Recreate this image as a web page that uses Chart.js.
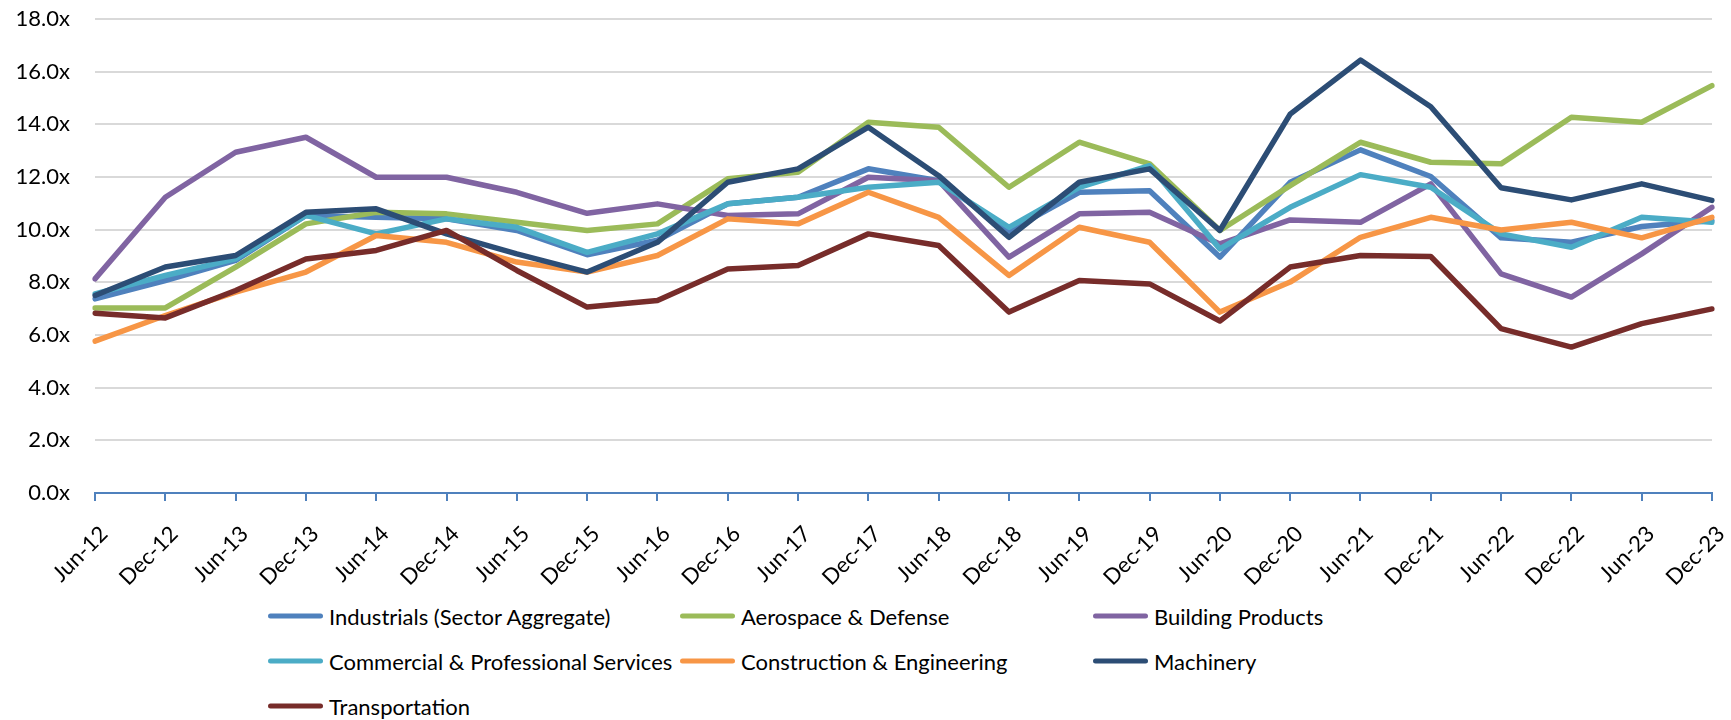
<!DOCTYPE html>
<html lang="en">
<head>
  <meta charset="UTF-8">
  <title>Industrials EV/EBITDA Multiples</title>
  <script src="https://cdn.jsdelivr.net/npm/chart.js"></script>
  <style>
    body {
      margin: 0;
      background: #fff;
      font-family: Lato, "Open Sans", sans-serif;
    }
    #wrap {
      position: relative;
      width: 1731px;
      height: 720px;
    }
    .leg {
      position: absolute;
      display: flex;
      align-items: center;
      font-size: 22px;
      color: #000;
      white-space: nowrap;
      transform: translateY(-50%);
    }
    .leg span.sw {
      display: inline-block;
      width: 55px;
      height: 5px;
      border-radius: 3px;
      margin-right: 6px;
    }
  </style>
</head>
<body>
  <div id="wrap">
    <canvas id="chart" width="1731" height="585"></canvas>
    <div id="legend"></div>
  </div>

  <script>
    const periods = ['Jun-12', 'Dec-12', 'Jun-13', 'Dec-13', 'Jun-14', 'Dec-14', 'Jun-15', 'Dec-15',
      'Jun-16', 'Dec-16', 'Jun-17', 'Dec-17', 'Jun-18', 'Dec-18', 'Jun-19', 'Dec-19',
      'Jun-20', 'Dec-20', 'Jun-21', 'Dec-21', 'Jun-22', 'Dec-22', 'Jun-23', 'Dec-23'];

    const industrials = [7.37, 8.07, 8.83, 10.54, 10.47, 10.41, 9.97, 9.05, 9.6, 10.98, 11.23, 12.31,
      11.86, 9.95, 11.42, 11.48, 8.96, 11.8, 13.03, 12.02, 9.69, 9.52, 10.12, 10.35];
    const aerospace = [7.03, 7.03, 8.58, 10.22, 10.66, 10.6, 10.28, 9.97, 10.22, 11.93, 12.18, 14.08,
      13.89, 11.61, 13.32, 12.5, 9.97, 11.67, 13.32, 12.56, 12.5, 14.27, 14.08, 15.47];
    const building = [8.13, 11.23, 12.94, 13.51, 11.99, 11.99, 11.42, 10.62, 10.98, 10.54, 10.6, 11.99,
      11.86, 8.96, 10.6, 10.66, 9.46, 10.37, 10.28, 11.74, 8.32, 7.44, 9.08, 10.85];
    const commercial = [7.56, 8.26, 8.89, 10.54, 9.84, 10.41, 10.09, 9.14, 9.84, 10.98, 11.23, 11.61,
      11.8, 10.09, 11.61, 12.43, 9.27, 10.85, 12.09, 11.61, 9.84, 9.33, 10.47, 10.28];
    const construction = [5.77, 6.74, 7.63, 8.39, 9.78, 9.52, 8.77, 8.39, 9.02, 10.41, 10.22, 11.42,
      10.47, 8.26, 10.09, 9.52, 6.87, 8.01, 9.71, 10.47, 9.99, 10.28, 9.69, 10.47];
    const machinery = [7.5, 8.58, 9.02, 10.66, 10.79, 9.84, 9.08, 8.39, 9.52, 11.8, 12.31, 13.89,
      12.05, 9.71, 11.8, 12.31, 9.97, 14.39, 16.44, 14.67, 11.59, 11.13, 11.74, 11.11];
    const transportation = [6.83, 6.65, 7.69, 8.89, 9.21, 9.97, 8.45, 7.06, 7.31, 8.51, 8.64, 9.84,
      9.4, 6.87, 8.07, 7.94, 6.53, 8.58, 9.02, 8.98, 6.24, 5.54, 6.43, 6.99];

    const seriesNames = ['Industrials (Sector Aggregate)', 'Aerospace & Defense', 'Building Products',
      'Commercial & Professional Services', 'Construction & Engineering', 'Machinery', 'Transportation'];
    const seriesData = [industrials, aerospace, building, commercial, construction, machinery, transportation];
    const seriesColors = ['#4F81BD', '#9BBB59', '#8064A2', '#4BACC6', '#F79646', '#2C4D75', '#772C2A'];

    const FONT = 'Lato, "Open Sans", sans-serif';
    const H = 585;

    const datasets = seriesNames.map((name, i) => ({
      label: name,
      data: seriesData[i],
      borderColor: seriesColors[i],
      backgroundColor: seriesColors[i],
      borderWidth: 5.5,
      pointRadius: 0,
      tension: 0,
      fill: false,
      borderJoinStyle: 'round',
      borderCapStyle: 'round',
      order: seriesNames.length - i   // later series drawn on top, like Excel
    }));

    new Chart(document.getElementById('chart'), {
      type: 'line',
      data: { labels: periods, datasets: datasets },
      options: {
        responsive: false,
        animation: false,
        events: [],
        layout: { padding: { top: 19, right: 19, left: 0, bottom: 0 } },
        plugins: { legend: { display: false }, tooltip: { enabled: false } },
        scales: {
          x: {
            offset: false,
            ticks: {
              autoSkip: false, maxRotation: 45, minRotation: 45,
              font: { family: FONT, size: 22 }, color: '#000',
              padding: 20, labelOffset: 9
            },
            grid: { drawOnChartArea: false, drawTicks: true, tickLength: 8, color: '#4F81BD', lineWidth: 2 },
            border: { color: '#4F81BD', width: 2 },
            afterFit: s => {
              s.height = H - 493;
              s.paddingLeft = 0;
              s.paddingRight = 0;
            }
          },
          y: {
            min: 0, max: 18,
            ticks: {
              stepSize: 2,
              callback: v => v.toFixed(1) + 'x',
              font: { family: FONT, size: 22 }, color: '#000', padding: 25
            },
            grid: { color: '#D9D9D9', lineWidth: 2, drawTicks: false },
            border: { display: false },
            afterFit: s => {
              s.width = 95;
              s.paddingTop = 0;
              s.paddingBottom = 0;
            }
          }
        }
      }
    });

    // legend laid out in 3 columns like the original
    const legend = document.getElementById('legend');
    const colX = [268, 680, 1093];
    const rowY = [616, 661, 706];
    seriesNames.forEach((name, i) => {
      const d = document.createElement('div');
      d.className = 'leg';
      d.style.left = colX[i % 3] + 'px';
      d.style.top = rowY[Math.floor(i / 3)] + 'px';
      d.innerHTML = '<span class="sw" style="background:' + seriesColors[i] + '"></span>';
      d.appendChild(document.createTextNode(name));
      legend.appendChild(d);
    });
  </script>
</body>
</html>
